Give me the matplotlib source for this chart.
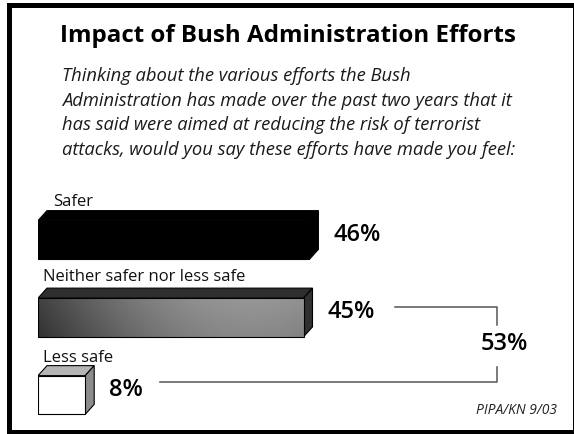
import numpy as np
import matplotlib.pyplot as plt
from matplotlib.patches import Polygon, Rectangle

categories = ["Safer", "Neither safer nor less safe", "Less safe"]
values = [46, 45, 8]
combined_label = "53%"

title = "Impact of Bush Administration Efforts"
question = ["Thinking about the various efforts the Bush",
            "Administration has made over the past two years that it",
            "has said were aimed at reducing the risk of terrorist",
            "attacks, would you say these efforts have made you feel:"]
source = "PIPA/KN 9/03"

plt.rcParams['font.family'] = ['Open Sans', 'DejaVu Sans']

W, H = 574, 434
fig = plt.figure(figsize=(W / 100, H / 100), dpi=100)

# overlay in pixel coords for text, border and brackets
ax = fig.add_axes([0, 0, 1, 1])
ax.set_xlim(0, W)
ax.set_ylim(H, 0)
ax.axis('off')

ax.add_patch(Rectangle((8.5, 5), 566, 426.5, fill=False, lw=3.6,
                       ec='black', clip_on=False))

ax.text(60, 42, title, fontsize=17.4, fontweight='bold', va='baseline')
for i, line in enumerate(question):
    ax.text(62, 81 + i * 24.6, line, fontsize=13.2, style='italic',
            va='baseline', color='#1a1a1a')
ax.text(557, 414, source, fontsize=10, style='italic', ha='right',
        va='baseline', color='#222222')

# bar axes: x in percent (5.9 px per point), y in category index
ppx = 5.9
left = 38
top_px, bot_px = 240 - 38.75, 395 + 38.75
bx = fig.add_axes([left / W, (H - bot_px) / H, (W - left) / W,
                   (bot_px - top_px) / H])
bx.set_xlim(0, (W - left) / ppx)
bx.set_ylim(2.5, -0.5)
bx.axis('off')

h = 0.5
dx = 9 / ppx
dy = 10 / 77.5
front_cols = ['black', None, 'white']
top_cols = ['black', '#2e2e2e', '#b4b4b4']
side_cols = ['black', '#303030', '#8c8c8c']

bars = bx.barh(range(len(values)), values, height=h, color='none',
               edgecolor='black', linewidth=0.8, zorder=3)
for i, (b, v) in enumerate(zip(bars, values)):
    y0 = i - h / 2
    y1 = i + h / 2
    top = Polygon([(0, y0), (v, y0), (v + dx, y0 - dy), (dx, y0 - dy)],
                  closed=True, fc=top_cols[i], ec='black', lw=0.8, zorder=2)
    side = Polygon([(v, y0), (v + dx, y0 - dy), (v + dx, y1 - dy), (v, y1)],
                   closed=True, fc=side_cols[i], ec='black', lw=0.8, zorder=2)
    bx.add_patch(top)
    bx.add_patch(side)
    if front_cols[i] is not None:
        b.set_facecolor(front_cols[i])
    else:
        xs = np.linspace(0, 1, 200)
        ys = np.linspace(0, 1, 40)
        X, Y = np.meshgrid(xs, ys)
        g = 0.26 + 0.33 * np.sin(X * np.pi * 0.62) - 0.06 * Y
        img = bx.imshow(g, cmap='gray', vmin=0, vmax=1, aspect='auto',
                        extent=(0, v, y1, y0), zorder=2.5,
                        interpolation='bilinear')
        img.set_clip_path(b)

    bx.text(v + dx + 15 / ppx, i - 0.07, f"{v}%", fontsize=17,
            fontweight='semibold', va='center', ha='left')

# category labels
label_x = [53, 43, 43]
label_y = [206, 281, 362]
for name, lx, ly in zip(categories, label_x, label_y):
    ax.text(lx, ly, name, fontsize=12, va='baseline', color='#111111')

# bracket joining "Neither" and "Less safe"
lc = '#555555'
ax.plot([395, 497, 497], [307, 307, 325], color=lc, lw=1.1)
ax.plot([160, 497, 497], [382, 382, 367], color=lc, lw=1.1)
ax.text(504, 344, combined_label, fontsize=17, fontweight='semibold',
        ha='center', va='center')

fig.savefig('out.png', dpi=100)
